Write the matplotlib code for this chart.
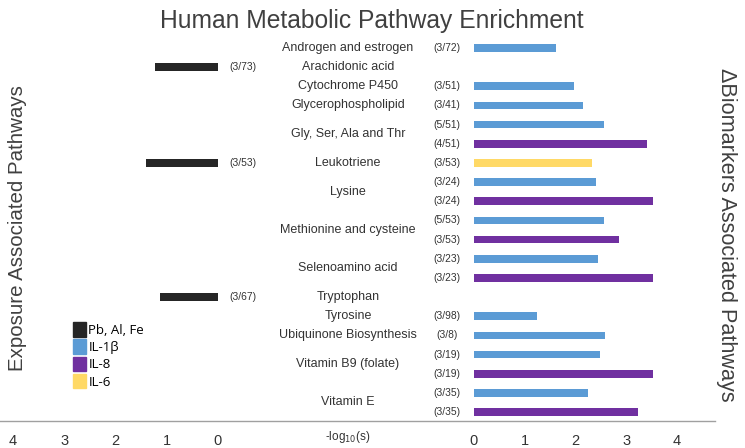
import matplotlib
matplotlib.use("Agg")
import matplotlib.pyplot as plt
from matplotlib.patches import Patch
from matplotlib.lines import Line2D
import matplotlib.transforms as mtransforms

plt.rcParams['font.family'] = ['Liberation Sans', 'DejaVu Sans']

# ---- data ----
pathways = ["Androgen and estrogen", "Arachidonic acid", "Cytochrome P450",
            "Glycerophospholipid", "Gly, Ser, Ala and Thr", "Leukotriene",
            "Lysine", "Methionine and cysteine", "Selenoamino acid",
            "Tryptophan", "Tyrosine", "Ubiquinone Biosynthesis",
            "Vitamin B9 (folate)", "Vitamin E"]
pathway_rows = [0, 1, 2, 3, 4.5, 6, 7.5, 9.5, 11.5, 13, 14, 15, 16.5, 18.5]

metal_rows = [1, 6, 13]
metal_vals = [1.22, 1.40, 1.14]
metal_counts = ["(3/73)", "(3/53)", "(3/67)"]

il1b_rows = [0, 2, 3, 4, 7, 9, 11, 14, 15, 16, 18]
il1b_vals = [1.62, 1.97, 2.14, 2.56, 2.41, 2.56, 2.44, 1.25, 2.59, 2.49, 2.25]
il1b_counts = ["(3/72)", "(3/51)", "(3/41)", "(5/51)", "(3/24)", "(5/53)",
               "(3/23)", "(3/98)", "(3/8)", "(3/19)", "(3/35)"]

il8_rows = [5, 8, 10, 12, 17, 19]
il8_vals = [3.40, 3.52, 2.86, 3.52, 3.52, 3.23]
il8_counts = ["(4/51)", "(3/24)", "(3/53)", "(3/23)", "(3/19)", "(3/35)"]

il6_rows = [6]
il6_vals = [2.32]
il6_counts = ["(3/53)"]

tick_vals = [0, 1, 2, 3, 4]

c_metal = "#262626"
c_il1b = "#5B9BD5"
c_il8 = "#7030A0"
c_il6 = "#FFD966"
txt = "#333333"

W, H = 745, 448
fig = plt.figure(figsize=(W / 100, H / 100), dpi=100)


def px_axes(x0, x1, y0, y1):
    return fig.add_axes([x0 / W, 1 - y1 / H, (x1 - x0) / W, (y1 - y0) / H])


row_px = (412 - 48) / 19.0
top_px, bot_px = 30, 421
ylim = (19 + (bot_px - 412) / row_px, -(48 - top_px) / row_px)

# left axes: 0 at x=218, 4 at x=13
lpx = (218 - 13) / 4.0
axL = px_axes(0, 232, top_px, bot_px)
axL.set_xlim(4 + 13 / lpx, -(232 - 218) / lpx)
axL.set_ylim(*ylim)

# right axes: 0 at x=474, 4 at x=677
rpx = (677 - 474) / 4.0
axR = px_axes(462, 715, top_px, bot_px)
axR.set_xlim(-(474 - 462) / rpx, (715 - 474) / rpx)
axR.set_ylim(*ylim)

bh = 0.40
axL.barh(metal_rows, metal_vals, height=bh, color=c_metal, label="Pb, Al, Fe")
axR.barh(il1b_rows, il1b_vals, height=bh, color=c_il1b, label="IL-1\u03b2")
axR.barh(il8_rows, il8_vals, height=bh, color=c_il8, label="IL-8")
axR.barh(il6_rows, il6_vals, height=bh, color=c_il6, label="IL-6")

for ax in (axL, axR):
    for s in ax.spines.values():
        s.set_visible(False)
    ax.set_yticks([])
    ax.set_xticks(tick_vals)
    ax.set_xticklabels([str(t) for t in tick_vals])
    ax.tick_params(axis='x', length=0, pad=9, labelsize=10.5, labelcolor=txt)
    ax.patch.set_alpha(0)

# annotations
transL = mtransforms.blended_transform_factory(fig.transFigure, axL.transData)
transR = mtransforms.blended_transform_factory(fig.transFigure, axR.transData)
for r, c in zip(metal_rows, metal_counts):
    fig.text(243 / W, r, c, transform=transL, ha='center', va='center',
             fontsize=7.4, color=txt)
for rows, counts in ((il1b_rows, il1b_counts), (il8_rows, il8_counts),
                     (il6_rows, il6_counts)):
    for r, c in zip(rows, counts):
        fig.text(447 / W, r, c, transform=transR, ha='center', va='center',
                 fontsize=7.4, color=txt)
for r, name in zip(pathway_rows, pathways):
    fig.text(348 / W, r, name, transform=transR, ha='center', va='center',
             fontsize=9, color=txt)

# bottom axis line
fig.add_artist(Line2D([0 / W, 715 / W], [1 - 421 / H, 1 - 421 / H],
                      transform=fig.transFigure, color="#a0a0a0", lw=1.0))
fig.text(348 / W, 1 - 437 / H, "-log$_{10}$(s)", ha='center', va='center',
         fontsize=8.5, color=txt)

# titles
fig.text(372 / W, 1 - 21 / H, "Human Metabolic Pathway Enrichment",
         ha='center', va='center', fontsize=17.7, color="#404040")
fig.text(18 / W, 1 - 228 / H, "Exposure Associated Pathways", rotation=90,
         ha='center', va='center', fontsize=14.8, color="#404040")
fig.text(726 / W, 1 - 235 / H, "\u0394Biomarkers Associated Pathways",
         rotation=270, ha='center', va='center', fontsize=15.6, color="#404040")

# legend
handles = [Patch(color=c_metal), Patch(color=c_il1b), Patch(color=c_il8),
           Patch(color=c_il6)]
labels = ["Pb, Al, Fe", "IL-1\u03b2", "IL-8", "IL-6"]
fig.legend(handles, labels, loc='upper left',
           bbox_to_anchor=(64 / W, 1 - 313 / H), frameon=False,
           handlelength=1.0, handleheight=1.3, handletextpad=0.15,
           labelspacing=0.2, borderpad=0.2,
           prop={'family': ['Open Sans', 'DejaVu Sans'], 'size': 9.5})

fig.savefig("out.png", dpi=100)
